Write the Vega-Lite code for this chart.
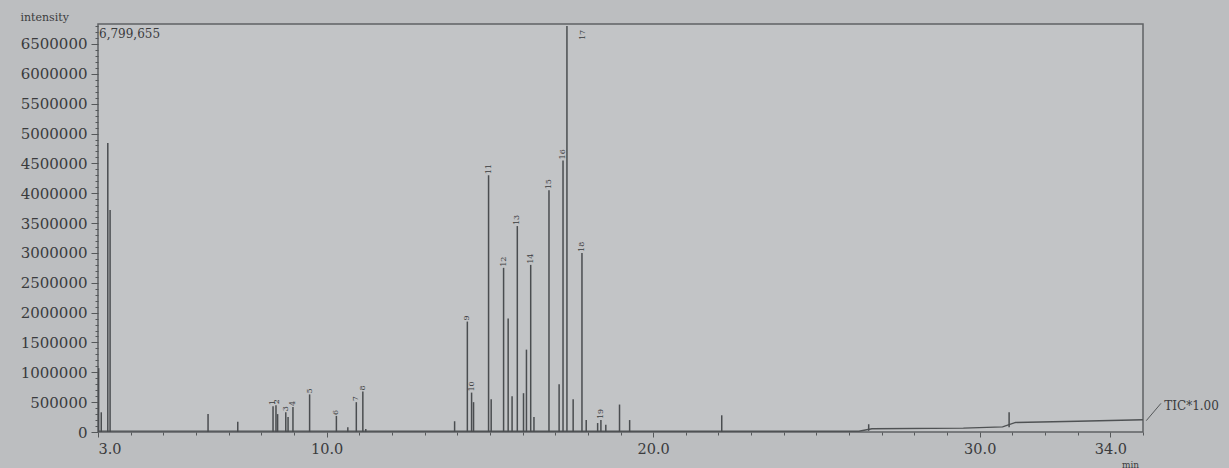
{
  "$schema": "https://vega.github.io/schema/vega-lite/v6.json",
  "width": 1045,
  "height": 408,
  "autosize": {"type": "none"},
  "padding": {"left": 98, "top": 24, "right": 86, "bottom": 36},
  "background": "#bcbec0",
  "config": {
    "view": {"stroke": "#5f6264", "strokeWidth": 1.5, "fill": "#c2c4c6"},
    "font": "DejaVu Serif",
    "axis": {"labelFont": "DejaVu Serif", "titleFont": "DejaVu Serif", "labelColor": "#3a3b3d", "titleColor": "#3a3b3d", "tickColor": "#55585a", "domainColor": "#55585a", "grid": false}
  },
  "datasets": {
    "baseline": [
      {"t": 3.0, "v": 15000},
      {"t": 26.3, "v": 12000},
      {"t": 26.7, "v": 55000},
      {"t": 29.5, "v": 65000},
      {"t": 30.7, "v": 85000},
      {"t": 31.1, "v": 160000},
      {"t": 33.0, "v": 180000},
      {"t": 35.0, "v": 205000}
    ],
    "peaks": [
      {"t": 3.02, "v2": 1070000, "v": 0},
      {"t": 3.10, "v2": 330000, "v": 0},
      {"t": 3.30, "v2": 4840000, "v": 0},
      {"t": 3.37, "v2": 3720000, "v": 0},
      {"t": 6.37, "v2": 300000, "v": 0},
      {"t": 7.28, "v2": 170000, "v": 0},
      {"t": 8.36, "v2": 430000, "v": 0},
      {"t": 8.45, "v2": 450000, "v": 0},
      {"t": 8.50, "v2": 300000, "v": 0},
      {"t": 8.75, "v2": 330000, "v": 0},
      {"t": 8.82, "v2": 250000, "v": 0},
      {"t": 8.97, "v2": 420000, "v": 0},
      {"t": 9.48, "v2": 630000, "v": 0},
      {"t": 10.30, "v2": 270000, "v": 0},
      {"t": 10.65, "v2": 80000, "v": 0},
      {"t": 10.91, "v2": 500000, "v": 0},
      {"t": 11.11, "v2": 680000, "v": 0},
      {"t": 11.20, "v2": 50000, "v": 0},
      {"t": 13.92, "v2": 180000, "v": 0},
      {"t": 14.31, "v2": 1850000, "v": 0},
      {"t": 14.44, "v2": 660000, "v": 0},
      {"t": 14.50, "v2": 500000, "v": 0},
      {"t": 14.96, "v2": 4300000, "v": 0},
      {"t": 15.04, "v2": 550000, "v": 0},
      {"t": 15.42, "v2": 2750000, "v": 0},
      {"t": 15.56, "v2": 1900000, "v": 0},
      {"t": 15.68, "v2": 600000, "v": 0},
      {"t": 15.84, "v2": 3450000, "v": 0},
      {"t": 16.03, "v2": 650000, "v": 0},
      {"t": 16.12, "v2": 1380000, "v": 0},
      {"t": 16.25, "v2": 2800000, "v": 0},
      {"t": 16.35, "v2": 250000, "v": 0},
      {"t": 16.81, "v2": 4050000, "v": 0},
      {"t": 17.12, "v2": 800000, "v": 0},
      {"t": 17.24, "v2": 4550000, "v": 0},
      {"t": 17.36, "v2": 6799655, "v": 0},
      {"t": 17.55, "v2": 550000, "v": 0},
      {"t": 17.82, "v2": 3000000, "v": 0},
      {"t": 17.95, "v2": 200000, "v": 0},
      {"t": 18.30, "v2": 150000, "v": 0},
      {"t": 18.40, "v2": 200000, "v": 0},
      {"t": 18.55, "v2": 120000, "v": 0},
      {"t": 18.97, "v2": 460000, "v": 0},
      {"t": 19.28, "v2": 200000, "v": 0},
      {"t": 22.10, "v2": 280000, "v": 0},
      {"t": 26.60, "v2": 130000, "v": 20000},
      {"t": 30.90, "v2": 330000, "v": 80000}
    ],
    "labels": [
      {"t": 8.36, "v": 430000, "label": "1"},
      {"t": 8.47, "v": 450000, "label": "2"},
      {"t": 8.75, "v": 330000, "label": "3"},
      {"t": 8.97, "v": 420000, "label": "4"},
      {"t": 9.48, "v": 630000, "label": "5"},
      {"t": 10.30, "v": 270000, "label": "6"},
      {"t": 10.91, "v": 500000, "label": "7"},
      {"t": 11.11, "v": 680000, "label": "8"},
      {"t": 14.31, "v": 1850000, "label": "9"},
      {"t": 14.44, "v": 660000, "label": "10"},
      {"t": 14.96, "v": 4300000, "label": "11"},
      {"t": 15.42, "v": 2750000, "label": "12"},
      {"t": 15.84, "v": 3450000, "label": "13"},
      {"t": 16.25, "v": 2800000, "label": "14"},
      {"t": 16.81, "v": 4050000, "label": "15"},
      {"t": 17.24, "v": 4550000, "label": "16"},
      {"t": 17.85, "v": 6550000, "label": "17"},
      {"t": 17.82, "v": 3000000, "label": "18"},
      {"t": 18.40, "v": 200000, "label": "19"}
    ],
    "notes": [
      {"t": 3.0, "v": 6670000, "text": "6,799,655"},
      {"t": 35.62, "v": 440000, "text": "TIC*1.00"}
    ],
    "leader": [
      {"t": 35.1, "v": 190000, "t2": 35.55, "v2": 480000}
    ]
  },
  "encoding": {
    "x": {
      "field": "t", "type": "quantitative",
      "scale": {"domain": [3, 35], "nice": false, "zero": false},
      "axis": {
        "values": [3,4,5,6,7,8,9,10,11,12,13,14,15,16,17,18,19,20,21,22,23,24,25,26,27,28,29,30,31,32,33,34,35],
        "labelExpr": "(datum.value==3||datum.value==10||datum.value==20||datum.value==30||datum.value==34) ? format(datum.value,'.1f') : ''",
        "labelOverlap": false,
        "labelFontSize": 14.5,
        "labelPadding": 5,
        "tickSize": {"condition": {"test": "datum.value==3||datum.value==10||datum.value==20||datum.value==30||datum.value==34", "value": 5}, "value": 3},
        "domain": false,
        "title": "min",
        "titleFontSize": 9,
        "titleFontWeight": "normal",
        "titleX": 1032,
        "titleY": 32,
        "titleAlign": "center",
        "titleBaseline": "middle"
      }
    },
    "y": {
      "field": "v", "type": "quantitative",
      "scale": {"domain": [0, 6835000], "nice": false, "zero": true},
      "axis": {
        "values": [0,100000,200000,300000,400000,500000,600000,700000,800000,900000,1000000,1100000,1200000,1300000,1400000,1500000,1600000,1700000,1800000,1900000,2000000,2100000,2200000,2300000,2400000,2500000,2600000,2700000,2800000,2900000,3000000,3100000,3200000,3300000,3400000,3500000,3600000,3700000,3800000,3900000,4000000,4100000,4200000,4300000,4400000,4500000,4600000,4700000,4800000,4900000,5000000,5100000,5200000,5300000,5400000,5500000,5600000,5700000,5800000,5900000,6000000,6100000,6200000,6300000,6400000,6500000,6600000,6700000,6800000],
        "labelExpr": "datum.value % 500000 == 0 ? format(datum.value,'d') : ''",
        "labelOverlap": false,
        "labelFontSize": 15,
        "labelPadding": 4,
        "tickSize": {"condition": {"test": "datum.value % 500000 == 0", "value": 7}, "value": 3},
        "domain": false,
        "title": "intensity",
        "titleAngle": 0,
        "titleFontSize": 11,
        "titleFontWeight": "normal",
        "titleX": -78,
        "titleY": -7,
        "titleAlign": "left",
        "titleBaseline": "middle"
      }
    }
  },
  "layer": [
    {
      "data": {"name": "baseline"},
      "mark": {"type": "line", "color": "#4f5254", "strokeWidth": 1.4}
    },
    {
      "data": {"name": "peaks"},
      "mark": {"type": "rule", "color": "#4a4d50", "strokeWidth": 1.5},
      "encoding": {
        "y2": {"field": "v2"}
      }
    },
    {
      "data": {"name": "labels"},
      "mark": {"type": "text", "angle": 270, "align": "left", "baseline": "middle", "fontSize": 8, "dx": 1, "color": "#3a3b3d"},
      "encoding": {
        "text": {"field": "label"}
      }
    },
    {
      "data": {"name": "notes"},
      "mark": {"type": "text", "align": "left", "baseline": "middle", "dx": 1, "fontSize": 12, "color": "#3a3b3d"},
      "encoding": {
        "text": {"field": "text"}
      }
    },
    {
      "data": {"name": "leader"},
      "mark": {"type": "rule", "color": "#55585a", "strokeWidth": 1},
      "encoding": {
        "x2": {"field": "t2"},
        "y2": {"field": "v2"}
      }
    }
  ]
}
